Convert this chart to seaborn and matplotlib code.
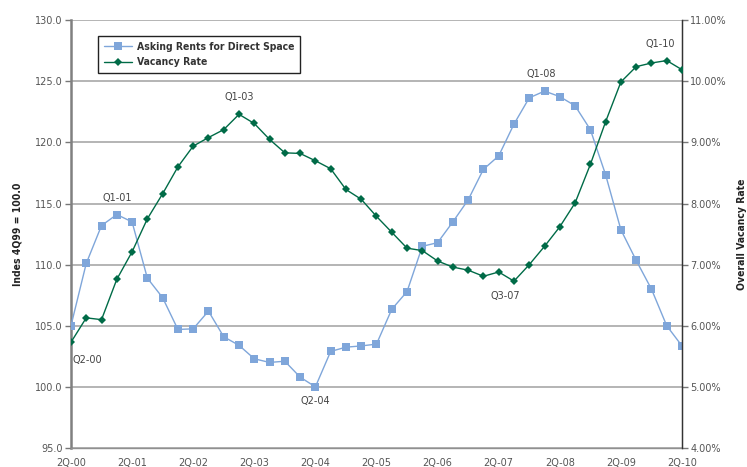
import numpy as np
import pandas as pd
import matplotlib
matplotlib.use("Agg")
import matplotlib.pyplot as plt
import seaborn as sns
from matplotlib import font_manager

# Quarterly series, 2Q-00 through 2Q-10
quarters = [f"Q{(q % 4) + 1}-{(q // 4):02d}" for q in range(1, 42)]
asking_rents = [105.0, 110.1, 113.2, 114.1, 113.5, 108.9, 107.3, 104.7, 104.75, 106.2,
                104.1, 103.4, 102.3, 102.0, 102.1, 100.8, 100.0, 102.9, 103.25, 103.35,
                103.5, 106.35, 107.8, 111.5, 111.8, 113.5, 115.3, 117.8, 118.9, 121.5,
                123.65, 124.2, 123.75, 123.0, 121.05, 117.35, 112.85, 110.35, 108.0, 105.0,
                103.35]
vacancy_rate = [5.73, 6.13, 6.10, 6.76, 7.21, 7.75, 8.16, 8.60, 8.94, 9.08,
                9.21, 9.46, 9.31, 9.05, 8.83, 8.82, 8.70, 8.57, 8.23, 8.07,
                7.79, 7.53, 7.27, 7.23, 7.06, 6.96, 6.91, 6.81, 6.88, 6.73,
                7.00, 7.30, 7.62, 8.01, 8.64, 9.34, 9.99, 10.24, 10.30, 10.34,
                10.19]
tick_labels = ["2Q-00", "2Q-01", "2Q-02", "2Q-03", "2Q-04", "2Q-05",
               "2Q-06", "2Q-07", "2Q-08", "2Q-09", "2Q-10"]

df = pd.DataFrame({
    "q": np.arange(len(quarters)),
    "label": quarters,
    "rent": asking_rents,
    "vacancy": vacancy_rate,
})

rent_color = "#7FA6DA"
vac_color = "#006B47"
grid_color = "#A8A8A8"
tick_color = "#555555"

sns.set_style("white")
plt.rcParams["font.family"] = ["DejaVu Sans"]
bold_font = {"family": "DejaVu Sans", "weight": "bold", "stretch": "condensed"}

fig = plt.figure(figsize=(7.47, 4.67), dpi=100)
ax = fig.add_axes([0.095, 0.0407, 0.818, 0.916])
ax2 = ax.twinx()

sns.lineplot(data=df, x="q", y="rent", ax=ax, color=rent_color, lw=1.0,
             marker="s", markersize=6, markeredgewidth=0, label="Asking Rents for Direct Space",
             legend=False, zorder=3)
sns.lineplot(data=df, x="q", y="vacancy", ax=ax2, color=vac_color, lw=1.0,
             marker="D", markersize=4.3, markeredgewidth=0, label="Vacancy Rate",
             legend=False, zorder=3)

ax.set_xlim(0, 40)
ax.set_ylim(95, 130)
ax2.set_ylim(4, 11)
ax.set_yticks(np.arange(95, 130.1, 5))
ax.set_yticklabels([f"{v:.1f}" for v in np.arange(95, 130.1, 5)])
ax2.set_yticks(np.arange(4, 11.1, 1))
ax2.set_yticklabels([f"{v:.2f}%" for v in np.arange(4, 11.1, 1)])
ax.set_xticks(np.arange(0, 41, 4))
ax.set_xticklabels(tick_labels)

for a in (ax, ax2):
    a.tick_params(axis="both", labelsize=7, labelcolor=tick_color, length=4,
                  width=1, color="#777777", pad=2)
ax.tick_params(axis="x", pad=3)

ax.grid(axis="y", color=grid_color, lw=1.2)
ax.grid(axis="x", visible=False)
ax.set_axisbelow(True)

for a in (ax, ax2):
    a.spines["top"].set_visible(False)
ax.spines["left"].set_color("#808080")
ax.spines["left"].set_linewidth(1.8)
ax.spines["bottom"].set_color("#909090")
ax.spines["bottom"].set_linewidth(1.0)
ax2.spines["left"].set_visible(False)
ax2.spines["bottom"].set_visible(False)
ax2.spines["right"].set_color("#333333")
ax2.spines["right"].set_linewidth(1.0)

ax.set_xlabel("")
ax.set_ylabel("Indes 4Q99 = 100.0", fontsize=7.5, color="#222222", labelpad=9, **bold_font)
ax2.set_ylabel("Overall Vacancy Rate", fontsize=7.5, color="#222222", labelpad=7, **bold_font)

# Peak and trough callouts
note_kw = dict(textcoords="offset points", fontsize=7, color="#444444", ha="center")
ax2.annotate("Q2-00", (df.q[0], df.vacancy[0]), xytext=(12, -15), **note_kw)
ax.annotate("Q1-01", (df.q[3], df.rent[3]), xytext=(0, 10), **note_kw)
ax2.annotate("Q1-03", (df.q[11], df.vacancy[11]), xytext=(0, 10), **note_kw)
ax.annotate("Q2-04", (df.q[16], df.rent[16]), xytext=(0, -12), **note_kw)
ax2.annotate("Q3-07", (df.q[29], df.vacancy[29]), xytext=(-6, -13), **note_kw)
ax.annotate("Q1-08", (df.q[31], df.rent[31]), xytext=(-2, 10), **note_kw)
ax2.annotate("Q1-10", (df.q[39], df.vacancy[39]), xytext=(-5, 10), **note_kw)

h1, l1 = ax.get_legend_handles_labels()
h2, l2 = ax2.get_legend_handles_labels()
leg = ax2.legend(h1 + h2, l1 + l2, loc="upper left", bbox_to_anchor=(0.036, 0.976),
                 frameon=True, fancybox=False, edgecolor="#222222", framealpha=1,
                 prop={"family": "DejaVu Sans", "weight": "bold", "stretch": "condensed",
                       "size": 7.5},
                 handlelength=2.6, borderpad=0.6, labelspacing=0.5, handletextpad=0.5)
leg.get_frame().set_linewidth(1.0)
for t in leg.get_texts():
    t.set_color("#333333")

fig.savefig("out.png", dpi=100)
